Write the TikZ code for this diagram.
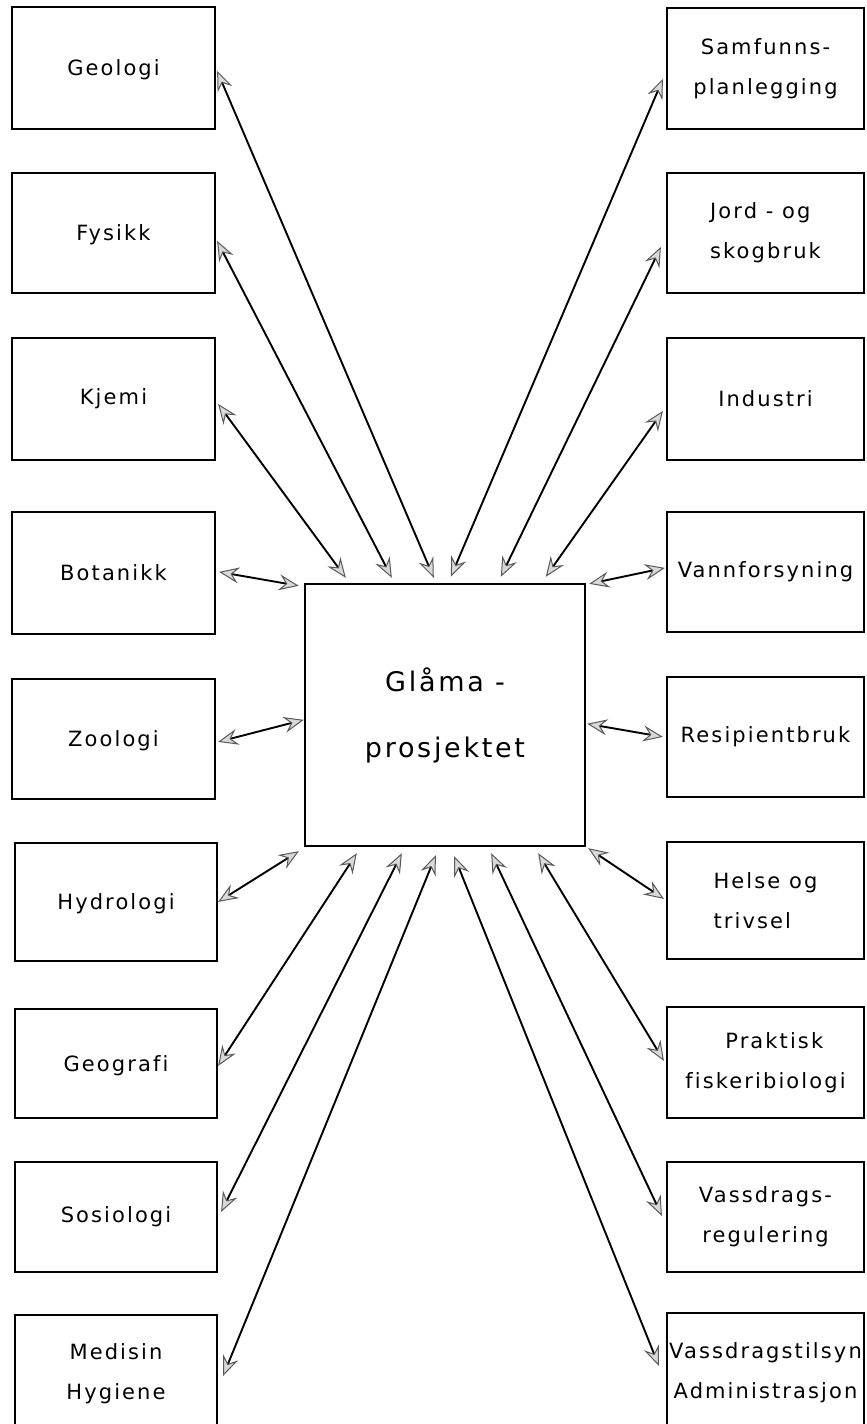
\documentclass[tikz,border=0pt]{standalone}
\usepackage{fontspec}
\setmainfont{DejaVu Sans}[LetterSpace=10,Ligatures=NoCommon]
\usetikzlibrary{arrows.meta,calc}
\begin{document}
\begin{tikzpicture}[x=0.5pt,y=-0.5pt,
  box/.style={draw, line width=1.1pt, inner sep=0pt, align=center,
              font=\fontsize{10.5}{20}\selectfont},
  lbox/.style={box, minimum width=101.5pt},
  rbox/.style={box, minimum width=98.5pt},
  hub/.style={draw, line width=1.2pt, inner sep=0pt, align=center,
              minimum width=140pt, minimum height=131pt,
              font=\fontsize{13.5}{33}\selectfont},
  link/.style={line width=0.95pt,
    {Stealth[length=10pt,width=8pt,inset=3.5pt,fill=gray!30,color=gray!70!black,line width=0.5pt]}-{Stealth[length=10pt,width=8pt,inset=3.5pt,fill=gray!30,color=gray!70!black,line width=0.5pt]}}]
\useasboundingbox (0,0) rectangle (867,1424);

% left column
\node[lbox, minimum height=61pt, text depth=0pt] (geo) at (113.5,68) {Geologi};
\node[lbox, minimum height=60pt, text depth=0pt] (fys) at (113.5,233) {Fysikk};
\node[lbox, minimum height=61pt] (kje) at (113.5,399) {Kjemi};
\node[lbox, minimum height=61pt] (bot) at (113.5,573) {Botanikk};
\node[lbox, minimum height=60pt, text depth=0pt] (zoo) at (113.5,739) {Zoologi};
\node[lbox, minimum width=101pt, minimum height=59pt, text depth=0pt] (hyd) at (116,902) {Hydrologi};
\node[lbox, minimum width=101pt, minimum height=54.5pt, text depth=0pt] (geg) at (116,1063.5) {Geografi};
\node[lbox, minimum width=101pt, minimum height=55pt] (sos) at (116,1217) {Sosiologi};
\node[lbox, minimum width=101pt, minimum height=58.5pt] (med) at (116,1373.5) {Medisin\\Hygiene};

% right column
\node[rbox, minimum height=60.5pt] (sam) at (765.5,68.5) {Samfunns-\\planlegging};
\node[rbox, minimum height=60pt, align=left] (jor) at (765.5,233) {Jord - og\\skogbruk};
\node[rbox, minimum height=61pt] (ind) at (765.5,399) {Industri};
\node[rbox, minimum height=60pt] (van) at (765.5,572) {Vannforsyning};
\node[rbox, minimum height=60pt] (res) at (765.5,737) {Resipientbruk};
\node[rbox, minimum height=58.5pt, align=left] (hel) at (765.5,900.5) {Helse og\\trivsel};
\node[rbox, minimum height=55.5pt] (pra) at (765.5,1062.5) {\ \ Praktisk\\fiskeribiologi};
\node[rbox, minimum height=55pt] (vre) at (765.5,1217) {Vassdrags-\\regulering};
\node[rbox, minimum height=59.5pt] (vti) at (765.5,1372.5) {Vassdragstilsyn\\Administrasjon};

% hub
\node[hub] (gla) at (445,715) {Glåma -\\prosjektet};

% connectors, left side
\draw[link] ($(geo.north east)+(1,65)$) -- ($(gla.north west)+(130,-5)$);
\draw[link] ($(fys.north east)+(1,69)$) -- ($(gla.north west)+(88,-5)$);
\draw[link] ($(kje.north east)+(2,67)$) -- ($(gla.north west)+(42,-5)$);
\draw[link] ($(bot.north east)+(3,61)$) -- ($(gla.north west)+(-5,3)$);
\draw[link] ($(zoo.north east)+(2,64)$) -- ($(gla.north west)+(0,137)$);
\draw[link] ($(hyd.north east)+(0,60)$) -- ($(gla.south west)+(-5,4)$);
\draw[link] ($(geg.north east)+(0,58)$) -- ($(gla.south west)+(53,6)$);
\draw[link] ($(sos.north east)+(3,51)$) -- ($(gla.south west)+(98,6)$);
\draw[link] ($(med.north east)+(5,62)$) -- ($(gla.south west)+(132,8)$);

% connectors, right side
\draw[link] ($(sam.north west)+(-3,72)$) -- ($(gla.north west)+(147,-6)$);
\draw[link] ($(jor.north west)+(-5,75)$) -- ($(gla.north west)+(197,-6)$);
\draw[link] ($(ind.north west)+(-3,74)$) -- ($(gla.north west)+(242,-6)$);
\draw[link] ($(van.north west)+(-1,57)$) -- ($(gla.north east)+(3,1)$);
\draw[link] ($(res.north west)+(-3,61)$) -- ($(gla.north east)+(1,141)$);
\draw[link] ($(hel.north west)+(-2,58)$) -- ($(gla.south east)+(2,1)$);
\draw[link] ($(pra.north west)+(-2,55)$) -- ($(gla.south east)+(-48,6)$);
\draw[link] ($(vre.north west)+(-4,55)$) -- ($(gla.south east)+(-95,6)$);
\draw[link] ($(vti.north west)+(-7,54)$) -- ($(gla.south east)+(-132,9)$);
\end{tikzpicture}
\end{document}
